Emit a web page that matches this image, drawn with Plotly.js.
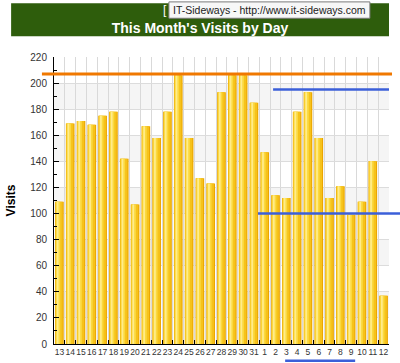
<!DOCTYPE html>
<html>
<head>
<meta charset="utf-8">
<script src="https://cdn.plot.ly/plotly-3.0.1.min.js"></script>
<style>html,body{margin:0;padding:0;background:#fff;}#chart{width:400px;height:363px;}</style>
</head>
<body>
<div id="chart"></div>
<script>
const days = ["13","14","15","16","17","18","19","20","21","22","23","24","25","26","27","28","29","30","31","1","2","3","4","5","6","7","8","9","10","11","12"];
const visits = [109,169,171,168,175,178,142,107,167,158,178,206,158,127,123,193,206,206,185,147,114,112,178,193,158,112,121,99,109,140,37];
const maxLine = 207;
const upperMark = 195;
const lowerMark = 100;

const strips = [
  {color:'#EBA600', width:0.80, offset:-0.40},
  {color:'#F6C21A', width:0.66, offset:-0.36},
  {color:'#FBD940', width:0.40, offset:-0.32},
  {color:'#FFEC8A', width:0.16, offset:-0.24}
];
const traces = strips.map(s => ({
  type:'bar', x:days, y:visits, width:s.width, offset:s.offset,
  marker:{color:s.color, line:{width:0}}, hoverinfo:'skip', showlegend:false
}));

const bands = [];
for (let v = 0; v < 220; v += 40) {
  bands.push({type:'rect', xref:'paper', yref:'y', x0:0, x1:1, y0:v+20, y1:v+40 > 220 ? 220 : v+40, fillcolor:'#F5F5F5', line:{width:0}, layer:'below'});
}

const layout = {
  width:400, height:363,
  margin:{l:54, r:11, t:57, b:19},
  paper_bgcolor:'#ffffff', plot_bgcolor:'#ffffff',
  barmode:'overlay', bargap:0.2,
  font:{family:'Liberation Sans, Arial, sans-serif', color:'#333'},
  title:{text:"This Month's Visits by Day", x:0.5, xanchor:'center', y:0.922, yanchor:'middle',
    font:{family:'Liberation Sans, Arial, sans-serif', size:14, color:'#ffffff', weight:'bold'}},
  xaxis:{type:'category', range:[-0.5,30.5], tickson:'boundaries', ticks:'inside', ticklen:4, tickcolor:'#000',
    showline:true, linecolor:'#000', linewidth:1, showgrid:true, gridcolor:'#D9D9D9', gridwidth:1,
    tickangle:0, tickfont:{size:8.5, color:'#333'}, zeroline:false, fixedrange:true},
  yaxis:{range:[0,220], dtick:20, ticks:'inside', ticklen:5, tickcolor:'#000',
    showline:true, linecolor:'#000', linewidth:1, showgrid:true, gridcolor:'#DCDCDC', gridwidth:1,
    minor:{dtick:10, ticks:'inside', ticklen:3, tickcolor:'#000', showgrid:false},
    tickfont:{size:10, color:'#333'}, zeroline:false, ticklabelstandoff:4,
    title:{text:'Visits', font:{size:12, color:'#000', weight:'bold'}, standoff:12}},
  shapes: bands.concat([
    {type:'line', xref:'paper', yref:'y', x0:-0.036, x1:1.009, y0:maxLine, y1:maxLine, line:{color:'#F07800', width:3}},
    {type:'line', xref:'paper', yref:'y', x0:0.654, x1:1.0, y0:upperMark, y1:upperMark, line:{color:'#3B5FD9', width:2.5}},
    {type:'line', xref:'paper', yref:'y', x0:0.609, x1:1.04, y0:lowerMark, y1:lowerMark, line:{color:'#3B5FD9', width:2.5}},
    {type:'line', xref:'paper', yref:'paper', x0:0.69, x1:0.899, y0:-0.058, y1:-0.058, line:{color:'#3B5FD9', width:2.5}},
    {type:'rect', xref:'paper', yref:'paper', x0:-0.128, x1:1.0, y0:1.072, y1:1.187, fillcolor:'#2E5D0C', line:{width:0}, layer:'above'},
    {type:'rect', xref:'paper', yref:'paper', x0:0.343, x1:0.943, y0:1.135, y1:1.192, fillcolor:'#F7F7F7', line:{color:'#7A7A7A', width:1}, layer:'above'}
  ]),
  annotations:[
    {xref:'paper', yref:'paper', x:0.33, y:1.163, xanchor:'center', yanchor:'middle', showarrow:false,
      text:'[', font:{size:12, color:'#ffffff'}},
    {xref:'paper', yref:'paper', x:0.643, y:1.163, xanchor:'center', yanchor:'middle', showarrow:false,
      text:'IT-Sideways - http://www.it-sideways.com', font:{family:'Liberation Sans, Arial, sans-serif', size:10.5, color:'#222'}}
  ]
};

Plotly.newPlot('chart', traces, layout, {displayModeBar:false, staticPlot:true});
</script>
</body>
</html>
